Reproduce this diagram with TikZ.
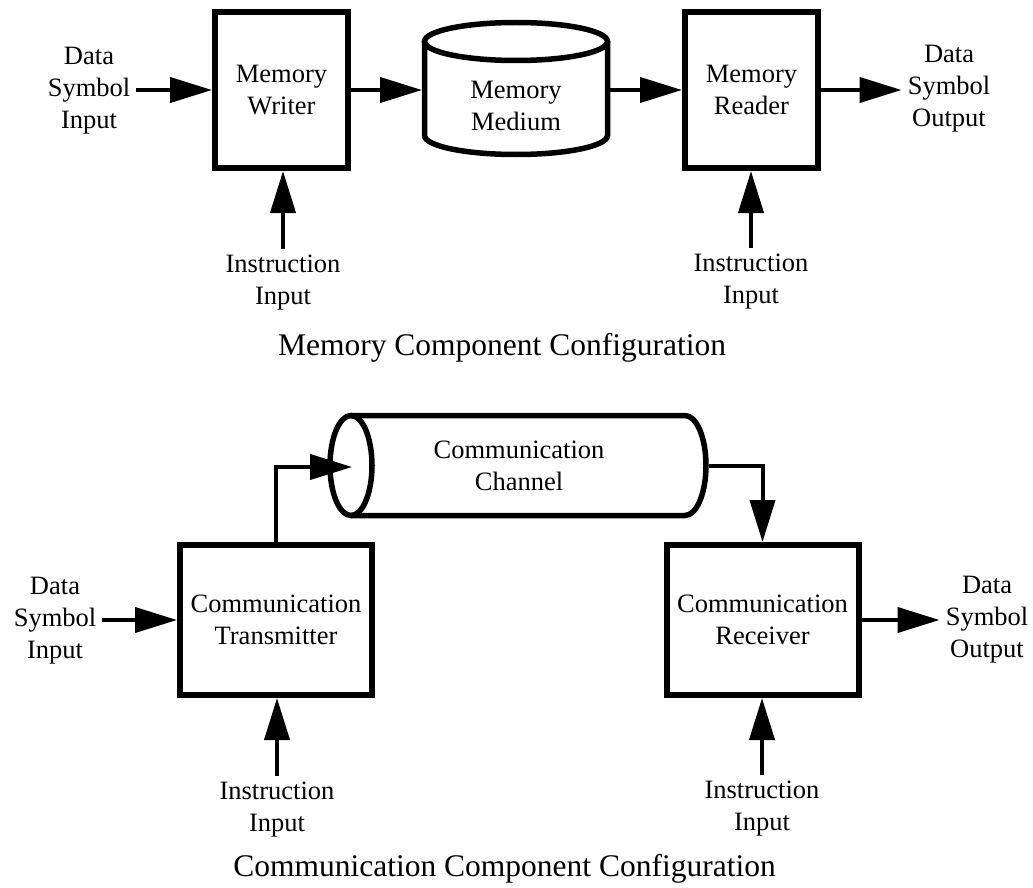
\documentclass[tikz,border=0pt]{standalone}
\usepackage{fontspec}
\setmainfont{Liberation Serif}
\usetikzlibrary{arrows.meta,positioning,calc}

\newcommand{\lblfont}{\fontsize{26.5}{32}\selectfont}
\newcommand{\ttlfont}{\fontsize{31.5}{38}\selectfont}

\tikzset{
    blockbox/.style={draw, line width=6pt, align=center, font=\lblfont},
    lbl/.style={align=center, font=\lblfont, inner sep=6pt},
    ttl/.style={font=\ttlfont},
    cyl/.style={line width=5.5pt},
    conn/.style={line width=4pt, -{Triangle[length=42pt,width=25pt]}}
}

\begin{document}
\begin{tikzpicture}[x=1pt, y=-1pt]
    \useasboundingbox (0,0) rectangle (1033,888);

    % Memory configuration
    \node[blockbox, minimum width=133pt, minimum height=156pt] (writer) at (281.5,90) {Memory\\Writer};
    \node[blockbox, minimum width=133pt, minimum height=156pt] (reader) at (751.5,90) {Memory\\Reader};
    \node[lbl, minimum width=188pt, minimum height=132pt, outer sep=0pt] (medium) at (516,106) {Memory\\Medium};
    \draw[cyl] (424.5,41.5) -- (424.5,135.5) arc[start angle=180, end angle=360, x radius=91.5pt, y radius=19pt] -- (607.5,41.5);
    \draw[cyl] (516,41.5) ellipse [x radius=91.5pt, y radius=19pt];

    \node[lbl] (datain) at (89,91) {Data\\Symbol\\Input};
    \node[lbl] (dataout) at (949,88.5) {Data\\Symbol\\Output};
    \node[lbl] (instw) at (283,282.5) {Instruction\\Input};
    \node[lbl] (instr) at (751,281.5) {Instruction\\Input};

    \draw[conn] (writer.west -| datain.east) -- (writer.west);
    \draw[conn] (writer.east) -- (writer.east -| medium.west);
    \draw[conn] (reader.west -| medium.east) -- (reader.west);
    \draw[conn] (reader.east) -- (reader.east -| dataout.west);

    \node[ttl] (memtitle) at (502,348) {Memory Component Configuration};

    % Communication configuration
    \node[blockbox, minimum width=192pt, minimum height=150pt] (tx) at (276,620) {Communication\\Transmitter};
    \node[blockbox, minimum width=192pt, minimum height=150pt] (rx) at (762.5,620) {Communication\\Receiver};
    \node[lbl, minimum width=379pt, minimum height=105pt, outer sep=0pt] (channel) at (519,466) {Communication\\Channel};
    \draw[cyl] (351,465.5) ellipse [x radius=21pt, y radius=50pt];
    \draw[cyl] (351,415.5) -- (685,415.5) arc[start angle=90, end angle=-90, x radius=21pt, y radius=50pt] -- (351,515.5);
    \coordinate (chanin) at (352,467);

    \node[lbl] (datain2) at (55,621) {Data\\Symbol\\Input};
    \node[lbl] (dataout2) at (987,620) {Data\\Symbol\\Output};
    \node[lbl] (insttx) at (277,809.5) {Instruction\\Input};
    \node[lbl] (instrx) at (762,809) {Instruction\\Input};

    \draw[conn] (tx.west -| datain2.east) -- (tx.west);
    \draw[conn] (tx.north) |- (chanin);
    \draw[conn] (channel.east) -| (rx.north);
    \draw[conn] (rx.east) -- (rx.east -| dataout2.west);

    \node[ttl] (comtitle) at (504.5,869) {Communication Component Configuration};

    % Instruction arrows
    \foreach \i/\b in {instw/writer, instr/reader, insttx/tx, instrx/rx}
        \draw[conn] (\i.north) -- (\i.north |- \b.south);

\end{tikzpicture}
\end{document}
